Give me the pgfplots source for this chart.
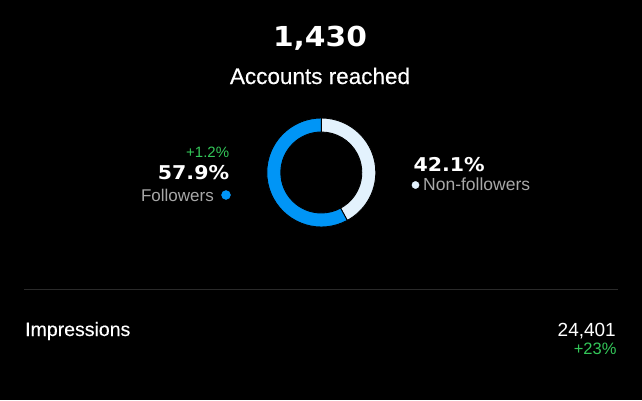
\documentclass[border=0pt]{standalone}
\usepackage{pgfplots}
\pgfplotsset{compat=1.18}
\usetikzlibrary{calc}
\usepackage{fontspec}
\setmainfont{Liberation Sans}
\newfontfamily\medfont[FakeBold=0.35]{Liberation Sans}
\newfontfamily\numfont[FakeStretch=1.08]{DejaVu Sans}

\definecolor{igblue}{HTML}{0095F6}
\definecolor{iglight}{HTML}{E3F2FD}
\definecolor{iggreen}{HTML}{33C759}
\definecolor{iggray}{HTML}{A8A8A8}
\definecolor{igline}{HTML}{2A2A2A}

% audience split (percent)
\pgfmathsetmacro{\followers}{57.9}
\pgfmathsetmacro{\nonfollowers}{42.1}

\begin{document}
\begin{tikzpicture}
\begin{axis}[
  scale only axis, width=642pt, height=400pt,
  xmin=0, xmax=642, ymin=0, ymax=400,
  enlargelimits=false, hide axis, clip=false,
]
% background
\fill[black] (axis cs:0,0) rectangle (axis cs:642,400);

% donut: non-followers clockwise from 12 o'clock, followers for the rest
\pgfmathsetmacro{\split}{90-3.6*\nonfollowers}
\pgfmathsetmacro{\stop}{\split-3.6*\followers}
\def\cx{321.3}\def\cy{227.5}\def\Ro{54.5}\def\Ri{40.5}
\filldraw[fill=iglight, draw=black, line width=0.9pt]
  (axis cs:\cx,\cy) ++(90:\Ro) arc[start angle=90, end angle=\split, radius=\Ro]
  -- ($(axis cs:\cx,\cy)+(\split:\Ri)$) arc[start angle=\split, end angle=90, radius=\Ri] -- cycle;
\filldraw[fill=igblue, draw=black, line width=0.9pt]
  (axis cs:\cx,\cy) ++(\split:\Ro) arc[start angle=\split, end angle=\stop, radius=\Ro]
  -- ($(axis cs:\cx,\cy)+(\stop:\Ri)$) arc[start angle=\stop, end angle=\split, radius=\Ri] -- cycle;

% legend dots
\addplot[only marks, mark=*, mark size=4.5pt, color=igblue] coordinates {(226,205)};
\addplot[only marks, mark=*, mark size=3.6pt, color=iglight] coordinates {(415.5,215)};

% header
\node[anchor=base, inner sep=0, text=white] at (axis cs:320,353.3)
  {\numfont\bfseries\fontsize{27.5}{27.5}\selectfont 1,430};
\node[anchor=base, inner sep=0, text=white] at (axis cs:320,316)
  {\medfont\fontsize{22.5}{22.5}\selectfont Accounts reached};

% followers side
\node[anchor=base east, inner sep=0, text=iggreen] at (axis cs:229.3,242.7)
  {\fontsize{15}{15}\selectfont +1.2\%};
\node[anchor=base east, inner sep=0, text=white] at (axis cs:229.3,220.7)
  {\numfont\bfseries\fontsize{19}{19}\selectfont 57.9\%};
\node[anchor=base east, inner sep=0, text=iggray] at (axis cs:214,198.3)
  {\fontsize{17}{17}\selectfont Followers};

% non-followers side
\node[anchor=base west, inner sep=0, text=white] at (axis cs:413.3,228.3)
  {\numfont\bfseries\fontsize{19}{19}\selectfont 42.1\%};
\node[anchor=base west, inner sep=0, text=iggray] at (axis cs:423,210)
  {\fontsize{17.5}{17.5}\selectfont Non-followers};

% separator and impressions row
\draw[igline, line width=1pt] (axis cs:24,110.7) -- (axis cs:618,110.7);
\node[anchor=base west, inner sep=0, text=white] at (axis cs:25,64)
  {\medfont\fontsize{19.5}{19.5}\selectfont Impressions};
\node[anchor=base east, inner sep=0, text=white] at (axis cs:616,64)
  {\fontsize{19}{19}\selectfont 24,401};
\node[anchor=base east, inner sep=0, text=iggreen] at (axis cs:616.7,46)
  {\fontsize{16.5}{16.5}\selectfont +23\%};
\end{axis}
\end{tikzpicture}
\end{document}
